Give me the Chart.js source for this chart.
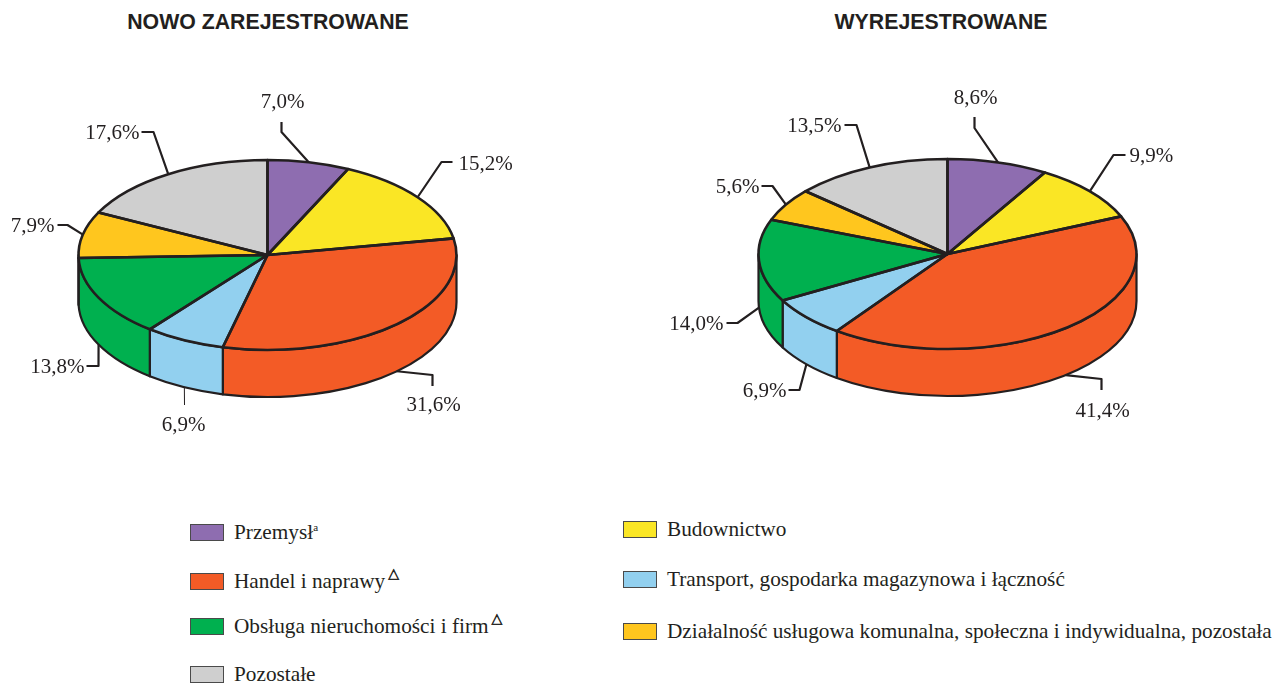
<!DOCTYPE html>
<html lang="pl">
<head>
<meta charset="utf-8">
<title>Podmioty nowo zarejestrowane i wyrejestrowane</title>
<script src="https://cdn.jsdelivr.net/npm/chart.js@4"></script>
<style>
  html,body{margin:0;padding:0;background:#fff;width:1276px;height:684px;overflow:hidden;position:relative}
  canvas{position:absolute;top:0}
  .title{position:absolute;top:11px;font:bold 21.3px/23px "Liberation Sans",Arial,sans-serif;color:#231f20;white-space:nowrap;transform:translateX(-50%)}
  .key{position:absolute;width:32px;height:15px;border:1.5px solid #4a4a4a;box-sizing:content-box}
  .lab{position:absolute;font:21.27px/24px "Liberation Serif","Times New Roman",serif;color:#231f20;white-space:nowrap}
  .lab sup{font-size:11px;line-height:0;vertical-align:8px}
  .lab .tri{font:14px/1 "DejaVu Sans",sans-serif;position:relative;top:-10px;left:2px;margin-left:1px;-webkit-text-stroke:.5px #231f20}
</style>
</head>
<body>
<div class="title" style="left:268px">NOWO ZAREJESTROWANE</div>
<div class="title" style="left:941px">WYREJESTROWANE</div>
<canvas id="left" width="600" height="500" style="left:0;width:600px;height:500px"></canvas>
<canvas id="right" width="656" height="500" style="left:620px;width:656px;height:500px"></canvas>
<div id="legend"></div>
<script>
// ---- data ----
const categories = ["Przemysł","Budownictwo","Handel i naprawy","Transport, gospodarka magazynowa i łączność","Obsługa nieruchomości i firm","Działalność usługowa komunalna, społeczna i indywidualna, pozostała","Pozostałe"];
const registered = [7.0,15.2,31.6,6.9,13.8,7.9,17.6];
const deregistered = [8.6,9.9,41.4,6.9,14.0,5.6,13.5];
const sliceColors = ["#8e6db0","#fae625","#f35b26","#92d0ef","#00b04f","#ffc61e","#cfcfcf"];
const categoryMarks = ["a","","tri","","tri","",""];

// ---- layout of leaders, labels and legend (pixels, relative to each pie centre) ----
const leftCallouts = [
  {elbow:[14,-123],end:[14,-133],text:[15,-153],align:"center"},
  {elbow:[174,-93],end:[185,-93],text:[191,-91],align:"left"},
  {elbow:[165,120],end:[165,131],text:[166,150],align:"center"},
  {elbow:null,end:[-83,150],text:[-84,170],align:"center",thin:true},
  {elbow:[-169,111],end:[-181,111],text:[-183,112],align:"right"},
  {elbow:[-200,-30],end:[-210,-30],text:[-213,-29],align:"right"},
  {elbow:[-114,-123],end:[-126,-123],text:[-128,-122],align:"right"}
];
const rightCallouts = [
  {elbow:[27,-126],end:[27,-137],text:[28,-156],align:"center"},
  {elbow:[166,-99],end:[178,-99],text:[182,-98],align:"left"},
  {elbow:[154,125],end:[154,136],text:[155,157],align:"center"},
  {elbow:[-148,136],end:[-159,136],text:[-161,137],align:"right"},
  {elbow:[-210,69],end:[-221,69],text:[-224,70],align:"right"},
  {elbow:[-175,-68],end:[-186,-68],text:[-188,-67],align:"right"},
  {elbow:[-91,-129],end:[-103,-129],text:[-106,-128],align:"right"}
];
const legendSlots = [[190,524],[623,521],[190,573],[623,571],[190,618],[623,623],[190,666]];

const INK = "#231f20";
const SQUASH = 0.5026;
const DEPTH = 47;

const pie3d = {
  id:"pie3d",
  beforeDatasetsDraw(chart){
    const ctx = chart.ctx, arcs = chart.getDatasetMeta(0).data;
    const {x:cx,y:cy,outerRadius:r} = arcs[0];
    const ry = r*SQUASH;
    ctx.save();
    ctx.strokeStyle = INK; ctx.lineWidth = 2.2; ctx.lineJoin = "round";
    arcs.forEach((a,i)=>{
      const from = Math.max(a.startAngle,0), to = Math.min(a.endAngle,Math.PI);
      if (to <= from) return;
      ctx.beginPath();
      ctx.ellipse(cx,cy,r,ry,0,from,to);
      ctx.ellipse(cx,cy+DEPTH,r,ry,0,to,from,true);
      ctx.closePath();
      ctx.fillStyle = chart.data.datasets[0].backgroundColor[i];
      ctx.fill(); ctx.stroke();
    });
    ctx.restore();
    ctx.save();
    ctx.translate(cx,cy); ctx.scale(1,SQUASH); ctx.translate(-cx,-cy);
  },
  afterDatasetsDraw(chart,args,opts){
    const ctx = chart.ctx, arcs = chart.getDatasetMeta(0).data;
    ctx.restore();
    const {x:cx,y:cy,outerRadius:r} = arcs[0];
    const ry = r*SQUASH;
    ctx.save();
    ctx.strokeStyle = INK; ctx.lineWidth = 2.6; ctx.lineJoin = "round"; ctx.lineCap = "butt";
    arcs.forEach(a=>{
      ctx.beginPath();
      ctx.moveTo(cx,cy);
      ctx.ellipse(cx,cy,r,ry,0,a.startAngle,a.endAngle);
      ctx.closePath();
      ctx.stroke();
    });
    const values = chart.data.datasets[0].data;
    ctx.font = '21px "Liberation Serif","Times New Roman",serif';
    ctx.textBaseline = "middle";
    arcs.forEach((a,i)=>{
      const c = opts.callouts[i], mid = (a.startAngle+a.endAngle)/2;
      const sy = cy + ry*Math.sin(mid) + (Math.sin(mid)>0 ? DEPTH : 0);
      ctx.beginPath();
      ctx.moveTo(cx + r*Math.cos(mid), sy);
      if (c.elbow) ctx.lineTo(cx+c.elbow[0], cy+c.elbow[1]);
      ctx.lineTo(cx+c.end[0], cy+c.end[1]);
      ctx.lineWidth = c.thin ? 1 : 2.2;
      ctx.stroke();
      ctx.fillStyle = INK;
      ctx.textAlign = c.align;
      ctx.fillText(values[i].toFixed(1).replace(".",",")+"%", cx+c.text[0], cy+c.text[1]);
    });
    ctx.restore();
  }
};

function makePie(id, values, callouts, pad){
  new Chart(document.getElementById(id),{
    type:"pie",
    data:{labels:categories,datasets:[{data:values,backgroundColor:sliceColors,borderWidth:0,clip:false}]},
    options:{
      responsive:false,animation:false,events:[],
      layout:{padding:pad},
      plugins:{legend:{display:false},tooltip:{enabled:false},pie3d:{callouts}}
    },
    plugins:[pie3d]
  });
}
makePie("left",registered,leftCallouts,{left:78.5,right:143.5,top:66,bottom:56});
makePie("right",deregistered,rightCallouts,{left:138.5,right:139.5,top:65,bottom:57});

const legend = document.getElementById("legend");
categories.forEach((name,i)=>{
  const [x,y] = legendSlots[i];
  const key = document.createElement("div");
  key.className = "key";
  key.style.cssText = `left:${x}px;top:${y}px;background:${sliceColors[i]}`;
  legend.appendChild(key);
  const lab = document.createElement("div");
  lab.className = "lab";
  lab.style.cssText = `left:${x+44}px;top:${y-4}px`;
  lab.textContent = name;
  if (categoryMarks[i]==="a"){ const s=document.createElement("sup"); s.textContent="a"; lab.appendChild(s); }
  if (categoryMarks[i]==="tri"){ const s=document.createElement("span"); s.className="tri"; s.textContent="△"; lab.appendChild(s); }
  legend.appendChild(lab);
});
</script>
</body>
</html>
